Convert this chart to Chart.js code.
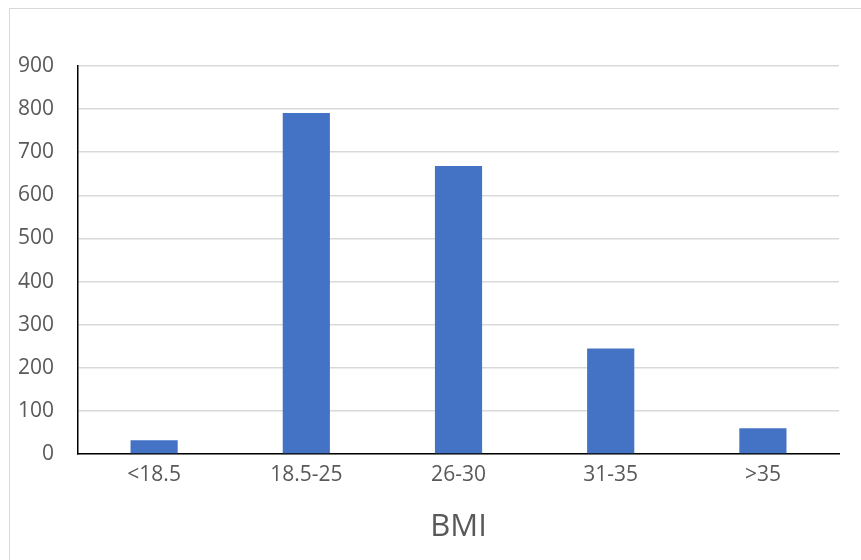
<!DOCTYPE html>
<html>
<head>
<meta charset="utf-8">
<style>
  html, body { margin: 0; padding: 0; background: #fff; }
  #wrap { position: relative; width: 861px; height: 560px; overflow: hidden; }
  #frame { position: absolute; left: 9px; top: 8px; width: 900px; height: 600px;
           border-left: 1px solid #d9d9d9; border-top: 1px solid #d9d9d9; }
  canvas { position: absolute; left: 0; top: 0; }
</style>
<script src="https://cdn.jsdelivr.net/npm/chart.js@4/dist/chart.umd.min.js"></script>
</head>
<body>
<div id="wrap">
  <div id="frame"></div>
  <canvas id="bmiChart" width="861" height="560"></canvas>
</div>
<script>
// data
const categories = ['<18.5', '18.5-25', '26-30', '31-35', '>35'];
const counts = [32, 791, 668, 245, 60];
const yMax = 900;
const yStep = 100;

const textColor = '#595959';
const gridColor = '#d9d9d9';
const fontFamily = '"Open Sans", "Liberation Sans", sans-serif';

new Chart(document.getElementById('bmiChart'), {
  type: 'bar',
  data: {
    labels: categories,
    datasets: [{
      data: counts,
      backgroundColor: '#4472c4',
      borderWidth: 0,
      categoryPercentage: 1,
      barPercentage: 0.31
    }]
  },
  options: {
    responsive: false,
    animation: false,
    layout: { padding: { top: 66, left: -6, right: 22, bottom: 14 } },
    plugins: {
      legend: { display: false },
      tooltip: { enabled: false }
    },
    scales: {
      x: {
        grid: { color: 'transparent', drawTicks: false },
        border: { display: true, color: '#000', width: 1.5 },
        ticks: { color: textColor, padding: 8, font: { family: fontFamily, size: 21 } },
        title: {
          display: true,
          text: 'BMI',
          color: textColor,
          padding: { top: 13.5, bottom: 0 },
          font: { family: fontFamily, size: 31 }
        }
      },
      y: {
        min: 0,
        max: yMax,
        grid: { color: gridColor, lineWidth: 1.5, drawTicks: false },
        border: { display: true, color: '#000', width: 1.5 },
        ticks: {
          stepSize: yStep,
          color: textColor,
          padding: 24,
          font: { family: fontFamily, size: 21 }
        }
      }
    }
  }
});
</script>
</body>
</html>
